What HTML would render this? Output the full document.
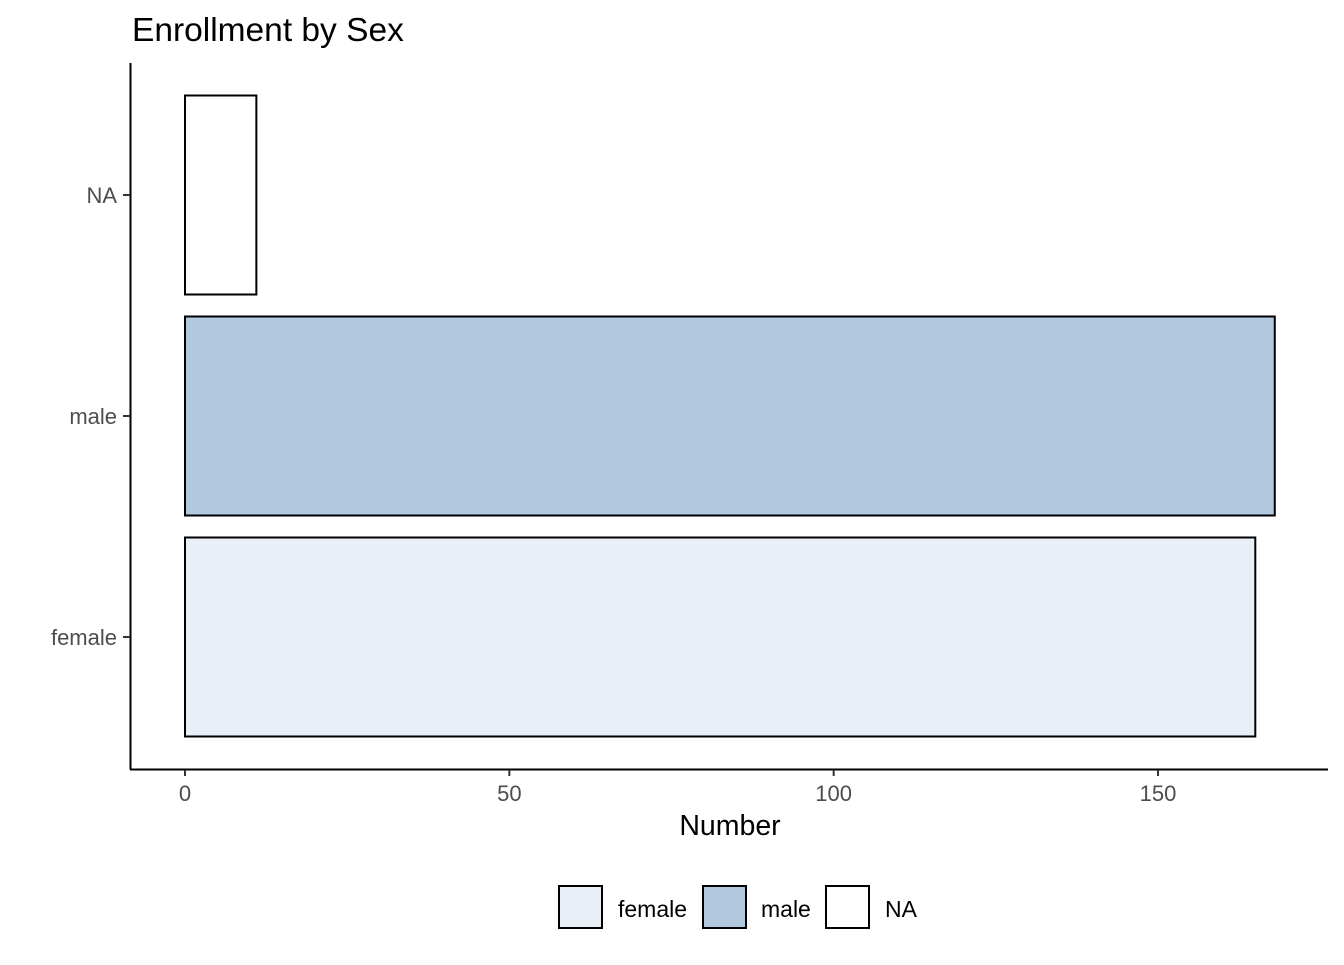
<!DOCTYPE html>
<html><head><meta charset="utf-8"><style>
html,body{margin:0;padding:0;background:#fff;}
svg text{font-family:"Liberation Sans",Arial,sans-serif;}
</style></head><body>
<svg id="chart" width="1344" height="960" xmlns="http://www.w3.org/2000/svg">
<text x="132" y="41" font-size="33.5" fill="#000">Enrollment by Sex</text>
<g id="bars"></g>
<line x1="130.5" y1="63" x2="130.5" y2="769.5" stroke="#000" stroke-width="2"/>
<line x1="130" y1="769.5" x2="1328" y2="769.5" stroke="#000" stroke-width="2"/>
<g id="xticks"></g>
<g id="yticks"></g>
<text x="730" y="835" font-size="28.5" text-anchor="middle" fill="#000">Number</text>
<g>
<rect x="559" y="886" width="43" height="42" fill="#e8eff7" stroke="#000" stroke-width="2"/>
<text x="618" y="917" font-size="23" fill="#000">female</text>
<rect x="703" y="886" width="43" height="42" fill="#b3c9e0" stroke="#000" stroke-width="2"/>
<text x="761" y="917" font-size="23" fill="#000">male</text>
<rect x="826" y="886" width="43" height="42" fill="#fff" stroke="#000" stroke-width="2"/>
<text x="885" y="917" font-size="23" fill="#000">NA</text>
</g>
</svg>
<script>
const categories = ["female","male","NA"];
const values = [165,168,11];
const colors = ["#e8eff7","#b3c9e0","#ffffff"];
const xTicks = [0,50,100,150];
const NS="http://www.w3.org/2000/svg";
function xs(v){return 185+v*(1158-185)/150;}
function ys(i){return 637-i*221;}
const bh=199;
const bars=document.getElementById('bars');
categories.forEach((c,i)=>{
  const r=document.createElementNS(NS,'rect');
  r.setAttribute('x',xs(0));r.setAttribute('y',ys(i)-bh/2);
  r.setAttribute('width',xs(values[i])-xs(0));r.setAttribute('height',bh);
  r.setAttribute('fill',colors[i]);r.setAttribute('stroke','#000');r.setAttribute('stroke-width','2');
  
  
  bars.appendChild(r);
});
const xt=document.getElementById('xticks');
xTicks.forEach(v=>{
  const l=document.createElementNS(NS,'line');
  l.setAttribute('x1',xs(v));l.setAttribute('x2',xs(v));l.setAttribute('y1',770);l.setAttribute('y2',776);
  l.setAttribute('stroke','#333');l.setAttribute('stroke-width','2');
  
  
  xt.appendChild(l);
  const t=document.createElementNS(NS,'text');
  t.setAttribute('x',xs(v));t.setAttribute('y',801);t.setAttribute('font-size','22');
  t.setAttribute('text-anchor','middle');t.setAttribute('fill','#4d4d4d');t.textContent=v;
  
  
  xt.appendChild(t);
});
const yt=document.getElementById('yticks');
categories.forEach((c,i)=>{
  const l=document.createElementNS(NS,'line');
  l.setAttribute('x1',123);l.setAttribute('x2',130);l.setAttribute('y1',ys(i));l.setAttribute('y2',ys(i));
  l.setAttribute('stroke','#333');l.setAttribute('stroke-width','2');
  
  
  yt.appendChild(l);
  const t=document.createElementNS(NS,'text');
  t.setAttribute('x',117);t.setAttribute('y',ys(i)+8);t.setAttribute('font-size','22');
  t.setAttribute('text-anchor','end');t.setAttribute('fill','#4d4d4d');t.textContent=c;
  
  
  yt.appendChild(t);
});
</script>
</body></html>
